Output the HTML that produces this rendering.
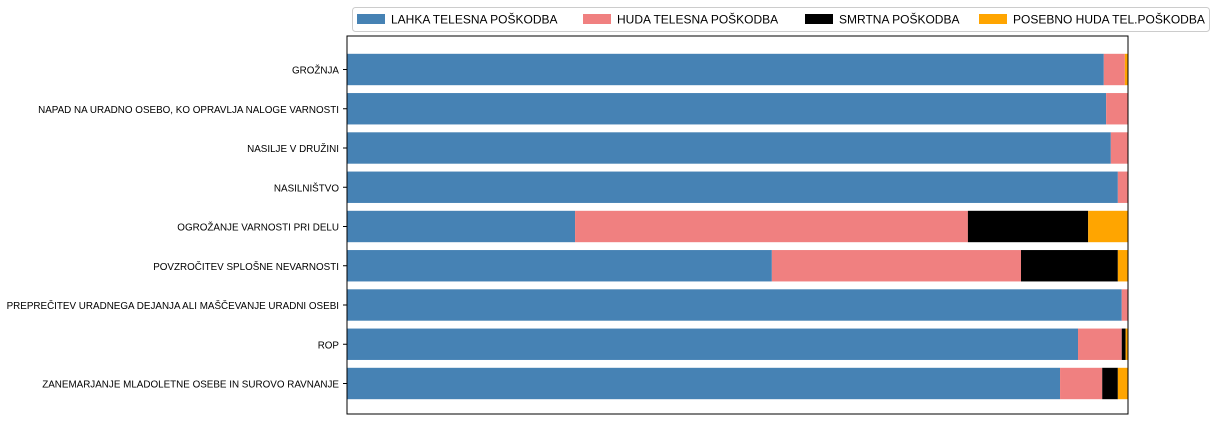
<!DOCTYPE html>
<html><head><meta charset="utf-8"><style>
body{margin:0;background:#fff;}
svg text{font-family:"Liberation Sans","DejaVu Sans",sans-serif;}
</style></head><body>
<svg width="1217" height="427" xmlns="http://www.w3.org/2000/svg">
<g id="legend"></g>
<g id="plot"></g>
</svg>
<script>
const categories=["GROŽNJA","NAPAD NA URADNO OSEBO, KO OPRAVLJA NALOGE VARNOSTI","NASILJE V DRUŽINI","NASILNIŠTVO","OGROŽANJE VARNOSTI PRI DELU","POVZROČITEV SPLOŠNE NEVARNOSTI","PREPREČITEV URADNEGA DEJANJA ALI MAŠČEVANJE URADNI OSEBI","ROP","ZANEMARJANJE MLADOLETNE OSEBE IN SUROVO RAVNANJE"];
const seriesNames=["LAHKA TELESNA POŠKODBA","HUDA TELESNA POŠKODBA","SMRTNA POŠKODBA","POSEBNO HUDA TEL.POŠKODBA"];
const lahka=[0.969,0.972,0.978,0.987,0.292,0.544,0.992,0.936,0.913];
const huda=[0.027,0.028,0.022,0.013,0.503,0.319,0.008,0.056,0.054];
const smrtna=[0,0,0,0,0.154,0.124,0,0.005,0.020];
const posebno=[0.004,0,0,0,0.051,0.013,0,0.003,0.013];
const colors=["#4682b4","#f08080","#000000","#ffa500"];
const NS="http://www.w3.org/2000/svg";
const L=347,R=1128,T=36,B=414;
const n=categories.length;
const first=69.5, last=383.5, step=(last-first)/(n-1);
const xs=v=>L+v*(R-L);
const yc=i=>first+step*i;
const bh=step*0.8;
const plot=document.getElementById('plot');
function mk(tag,attrs,parent){const e=document.createElementNS(NS,tag);for(const k in attrs)e.setAttribute(k,attrs[k]);parent.appendChild(e);return e;}
const series=[lahka,huda,smrtna,posebno];
const keys=["lahka","huda","smrtna","posebno"];
for(let i=0;i<n;i++){
  let acc=0;
  for(let s=0;s<4;s++){
    const v=series[s][i];
    if(v>0){
      const r=mk('rect',{x:xs(acc),y:yc(i)-bh/2,width:xs(acc+v)-xs(acc),height:bh,fill:colors[s]},plot);
      
      
    }
    acc+=v;
  }
  const tk=mk('line',{x1:L-4,x2:L,y1:yc(i),y2:yc(i),stroke:'#000','stroke-width':1},plot);
  
  
  const t=mk('text',{x:L-8,y:yc(i)+4,'text-anchor':'end','font-size':'10.5',fill:'#000'},plot);
  t.textContent=categories[i];
  
  
  const w=t.getComputedTextLength();
  t.setAttribute('textLength',(w*0.9375).toFixed(1));
  t.setAttribute('lengthAdjust','spacingAndGlyphs');
}
const fr=mk('rect',{x:L,y:T,width:R-L,height:B-T,fill:'none',stroke:'#000','stroke-width':1},plot);


const lg=document.getElementById('legend');
const box=mk('rect',{x:352.5,y:7.5,width:857,height:24,rx:3,fill:'#fff',stroke:'#ccc'},lg);


const lx=[357,583,805,979];
for(let s=0;s<4;s++){
  const sw=mk('rect',{x:lx[s],y:14,width:28,height:10,fill:colors[s]},lg);
  
  
  const t=mk('text',{x:lx[s]+34,y:23.5,'font-size':'12',fill:'#000'},lg);
  t.textContent=seriesNames[s];
  
  
}
</script>
</body></html>
